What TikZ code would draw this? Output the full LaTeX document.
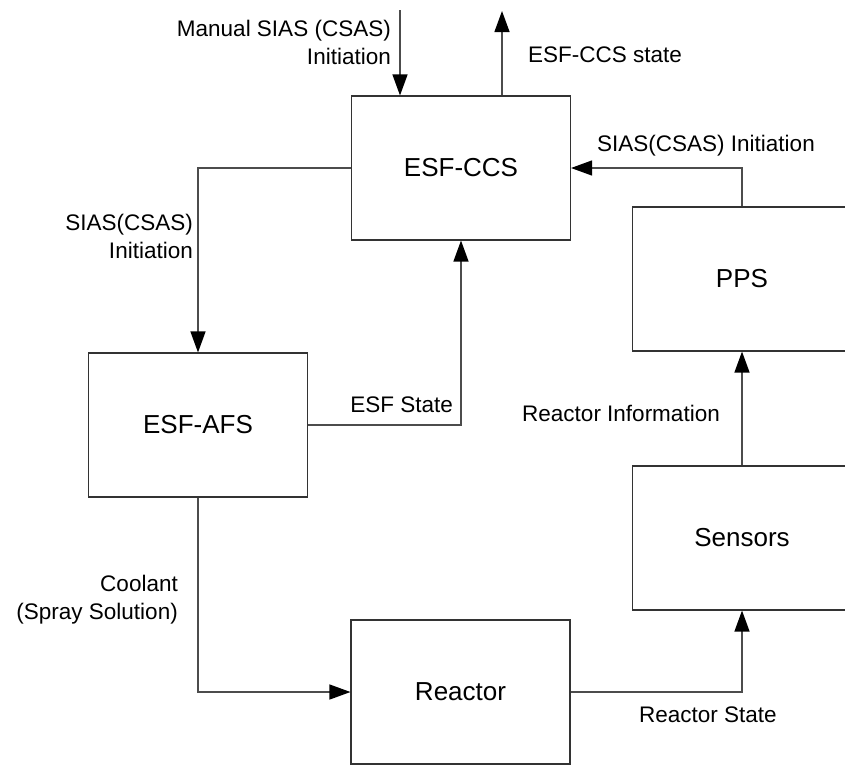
\documentclass[tikz,border=0pt]{standalone}
\usepackage{fontspec}
\setmainfont{Liberation Sans}
\usetikzlibrary{arrows.meta}
\begin{document}
\begin{tikzpicture}[x=1pt,y=-1pt,
  blk/.style={draw=black!80,line width=1.1pt,minimum width=219pt,minimum height=144pt,inner sep=0pt,font=\fontsize{26}{30}\selectfont},
  lbl/.style={inner sep=0pt,align=right,font=\fontsize{22.5}{28}\selectfont},
  lbll/.style={inner sep=0pt,align=left,font=\fontsize{22.5}{28}\selectfont},
  arr/.style={draw=black!70,line width=1.3pt,-{Triangle[length=21pt,width=15pt,black]}},
  ln/.style={draw=black!70,line width=1.3pt}]
\useasboundingbox (0,0) rectangle (845,764);
\clip (0,0) rectangle (845,764);
\node[blk] (ccs) at (461,168) {ESF-CCS};
\node[blk] (afs) at (198,425) {ESF-AFS};
\node[blk] (pps) at (742,279) {PPS};
\node[blk] (sensors) at (742,538) {Sensors};
\node[blk] (reactor) at (460.5,692) {Reactor};
\coordinate (m0) at (400,10);
\coordinate (s1) at (502,11);
\draw[arr] (m0) -- (m0 |- ccs.north);
\draw[arr] (s1 |- ccs.north) -- (s1);
\draw[arr] (pps.north) |- (ccs.east);
\draw[arr] (ccs.west) -| (afs.north);
\draw[arr] (afs.east) -| (ccs.south);
\draw[arr] (afs.south) |- (reactor.west);
\draw[arr] (reactor.east) -| (sensors.south);
\draw[arr] (sensors.north) -- (pps.south);
\node[lbl,anchor=east] (t1) at (391,42) {Manual SIAS (CSAS)\\Initiation};
\node[lbll,anchor=west] (t2) at (528,55) {ESF-CCS state};
\node[lbll,anchor=west] (t3) at (597,146) {SIAS(CSAS) Initiation};
\node[lbl,anchor=east] (t4) at (193,236) {SIAS(CSAS)\\Initiation};
\node[lbl,anchor=east] (t5) at (453,405) {ESF State};
\node[lbl,anchor=east] (t6) at (720,413) {Reactor Information};
\node[lbl,anchor=east] (t7) at (178,600) {Coolant\\(Spray Solution)};
\node[lbll,anchor=west] (t8) at (639,715) {Reactor State};
\end{tikzpicture}
\end{document}
